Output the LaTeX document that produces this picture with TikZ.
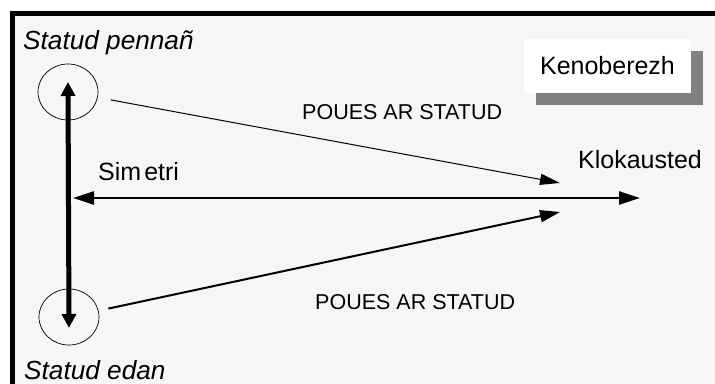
\documentclass[tikz,border=0pt]{standalone}
\usepackage{fontspec}
\setmainfont{Liberation Sans}
\usetikzlibrary{arrows.meta,shapes.geometric,shadows}
\definecolor{panel}{RGB}{246,246,246}
\definecolor{shade}{RGB}{128,128,128}

\begin{document}
\begin{tikzpicture}[x=1pt,y=-1pt,
  big/.style={font=\fontsize{25}{30}\selectfont,inner sep=0pt},
  slant/.style={font=\fontsize{26.2}{30}\selectfont\itshape,inner sep=0pt},
  small/.style={font=\fontsize{21.5}{26}\selectfont,inner sep=0pt},
  state/.style={draw,ellipse,line width=0.7pt,minimum width=60pt,minimum height=56pt,inner sep=0pt},
  boxed/.style={fill=white,minimum width=167pt,minimum height=54pt,inner sep=0pt,
    drop shadow={shadow xshift=12pt,shadow yshift=-12pt,fill=shade,opacity=1}}]
  \useasboundingbox (0,0) rectangle (715,383);
  \clip (0,0) rectangle (715,383);
  \fill [white] (0,0) rectangle (715,383);
  \draw [line width=5pt,fill=panel] (12.5,13.5) rectangle (740,400);

  \node [state] (pen) at (68,92) {};
  \node [state] (edan) at (69,317) {};
  \coordinate (sim) at (73,198);
  \coordinate (klok) at (640,198);
  \coordinate (up) at (560,183);
  \coordinate (lo) at (560,212);

  \node [slant,anchor=base west] (tpen) at (23,49) {Statud pennañ};
  \node [slant,anchor=base west] (tedan) at (24,379) {Statud edan};
  \node [big,anchor=base west] (tsim) at (98,180) {Sim\kern3pt etri};
  \node [big,anchor=base west] (tklok) at (578,168) {Klokausted};
  \node [small,anchor=base west] (poues1) at (302,119) {POUES AR STATUD};
  \node [small,anchor=base west] (poues2) at (315,309) {POUES AR STATUD};
  \node [boxed,big] (keno) at (607.5,66) {Kenoberezh};

  \draw [<->,>={Triangle[length=14pt,width=14pt]},line width=5pt]
    ([yshift=10pt]pen.center) to ([yshift=-11pt]edan.center);
  \draw [<->,>={Triangle[length=21pt,width=13pt]},line width=2.5pt] (sim) to (klok);
  \draw [->,>={Triangle[length=20pt,width=11pt]},line width=1pt,shorten <=13pt] (pen) to (up);
  \draw [->,>={Triangle[length=20pt,width=12pt]},line width=2pt,shorten <=10pt] (edan) to (lo);
\end{tikzpicture}
\end{document}
